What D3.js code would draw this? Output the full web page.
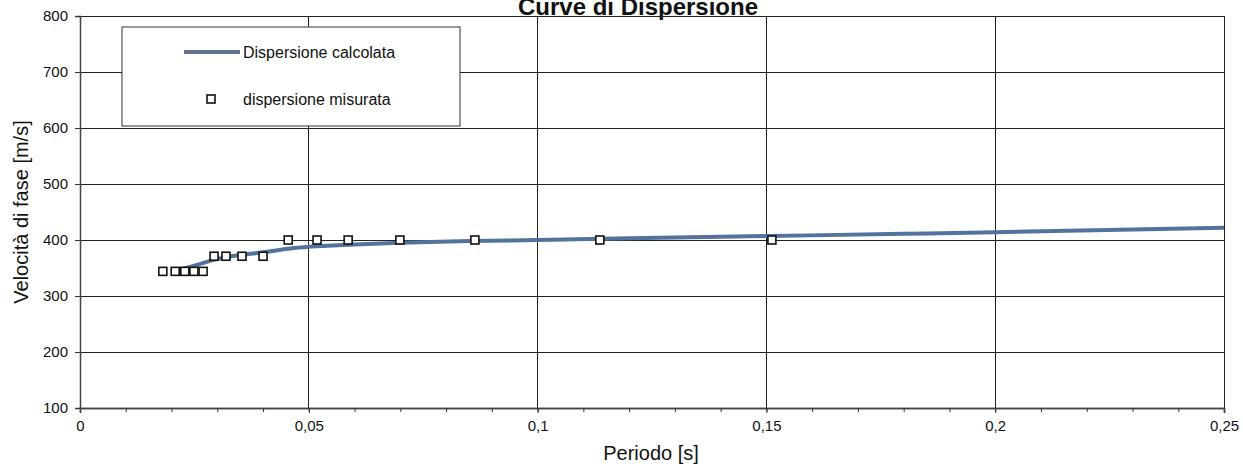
<!DOCTYPE html>
<html>
<head>
<meta charset="utf-8">
<script src="https://cdn.jsdelivr.net/npm/d3@7"></script>
<style>
  body { margin: 0; background: #fff; }
  text { font-family: "Liberation Sans", Arial, sans-serif; fill: #111; }
</style>
</head>
<body>
<script>
//measured points (period [s], velocity [m/s])
var measPeriod = [0.0181, 0.0208, 0.0229, 0.0249, 0.0269,
                  0.0293, 0.0319, 0.0354, 0.0400,
                  0.0455, 0.0518, 0.0586, 0.0699, 0.0863, 0.1136, 0.1512];
var measVel = [344, 344, 344, 344, 344,
               371, 371, 371, 371,
               400, 400, 400, 400, 400, 400, 400];
//computed dispersion curve
var calcPeriod = [0.020, 0.025, 0.029, 0.033, 0.040, 0.046, 0.050, 0.060, 0.070, 0.085, 0.100, 0.120, 0.150, 0.180, 0.200, 0.250];
var calcVel = [344, 354, 364, 371, 378, 385, 388, 392, 395, 398, 400, 403, 407, 411, 414, 422];
var xTicks = [0, 0.05, 0.1, 0.15, 0.2, 0.25];
var yTicks = [100, 200, 300, 400, 500, 600, 700, 800];
var legendLabels = ["Dispersione calcolata", "dispersione misurata"];

var width = 1243, height = 468;
var svg = d3.select("body").append("svg").attr("width", width).attr("height", height);

var x = d3.scaleLinear().domain([0, 0.25]).range([80, 1224]);
var y = d3.scaleLinear().domain([100, 800]).range([408, 16]);
var fmt = function(d) { return String(d).replace(".", ","); };

//title, sits against the top edge like the scan
svg.append("text").attr("x", 638).attr("y", 15).attr("text-anchor", "middle")
  .style("font-size", "24px").style("font-weight", "bold").text("Curve di Dispersione");

//grid
svg.append("g").selectAll("line").data(yTicks.slice(1)).enter().append("line")
  .attr("x1", x(0)).attr("x2", x(0.25)).attr("y1", function(d) { return y(d); }).attr("y2", function(d) { return y(d); })
  .attr("stroke", "#222").attr("stroke-width", 1).attr("shape-rendering", "crispEdges");
svg.append("g").selectAll("line").data(xTicks.slice(1)).enter().append("line")
  .attr("y1", y(100)).attr("y2", y(800)).attr("x1", function(d) { return x(d); }).attr("x2", function(d) { return x(d); })
  .attr("stroke", "#222").attr("stroke-width", 1).attr("shape-rendering", "crispEdges");

//axes
svg.append("g").attr("transform", "translate(0," + y(100) + ")")
  .call(d3.axisBottom(x).tickValues(xTicks).tickFormat(fmt).tickSize(5).tickPadding(7));
svg.append("g").attr("transform", "translate(0," + y(100) + ")")
  .call(d3.axisBottom(x).tickValues(d3.range(1, 25).map(function(i) { return i / 100; })).tickFormat("").tickSize(4));
svg.append("g").attr("transform", "translate(" + x(0) + ",0)")
  .call(d3.axisLeft(y).tickValues(yTicks).tickSize(5).tickPadding(7));
svg.selectAll(".domain").attr("stroke", "#444").attr("stroke-width", 1.5);
svg.selectAll(".tick line").attr("stroke", "#333");
svg.selectAll(".tick text").style("font-size", "15px").style("font-family", "'Liberation Sans', Arial, sans-serif").attr("fill", "#222");

//axis titles
svg.append("text").attr("x", 651).attr("y", 460).attr("text-anchor", "middle")
  .style("font-size", "20px").text("Periodo [s]");
svg.append("text").attr("transform", "translate(28,212)rotate(-90)").attr("text-anchor", "middle")
  .style("font-size", "20px").text("Velocità di fase [m/s]");

//computed curve
var calc = calcPeriod.map(function(p, i) { return [p, calcVel[i]]; });
var line = d3.line().x(function(d) { return x(d[0]); }).y(function(d) { return y(d[1]); }).curve(d3.curveMonotoneX);
svg.append("path").datum(calc).attr("d", line).attr("fill", "none")
  .attr("stroke", "#52739c").attr("stroke-width", 4);

//measured squares
var meas = measPeriod.map(function(p, i) { return [p, measVel[i]]; });
svg.append("g").selectAll("rect").data(meas).enter().append("rect")
  .attr("x", function(d) { return x(d[0]) - 4; }).attr("y", function(d) { return y(d[1]) - 4; })
  .attr("width", 8).attr("height", 8).attr("fill", "#fff").attr("stroke", "#111").attr("stroke-width", 1.6);

//legend
var lg = svg.append("g");
lg.append("rect").attr("x", 122).attr("y", 27).attr("width", 338).attr("height", 99)
  .attr("fill", "#fff").attr("stroke", "#333").attr("stroke-width", 1);
lg.append("line").attr("x1", 184).attr("x2", 240).attr("y1", 52).attr("y2", 52)
  .attr("stroke", "#5f7390").attr("stroke-width", 4);
lg.append("rect").attr("x", 207).attr("y", 95).attr("width", 8).attr("height", 8)
  .attr("fill", "#fff").attr("stroke", "#111").attr("stroke-width", 1.6);
lg.selectAll("text").data(legendLabels).enter().append("text")
  .attr("x", 243).attr("y", function(d, i) { return i == 0 ? 52 : 99; }).attr("dy", "0.35em")
  .style("font-size", "16px").text(function(d) { return d; });
</script>
</body>
</html>
